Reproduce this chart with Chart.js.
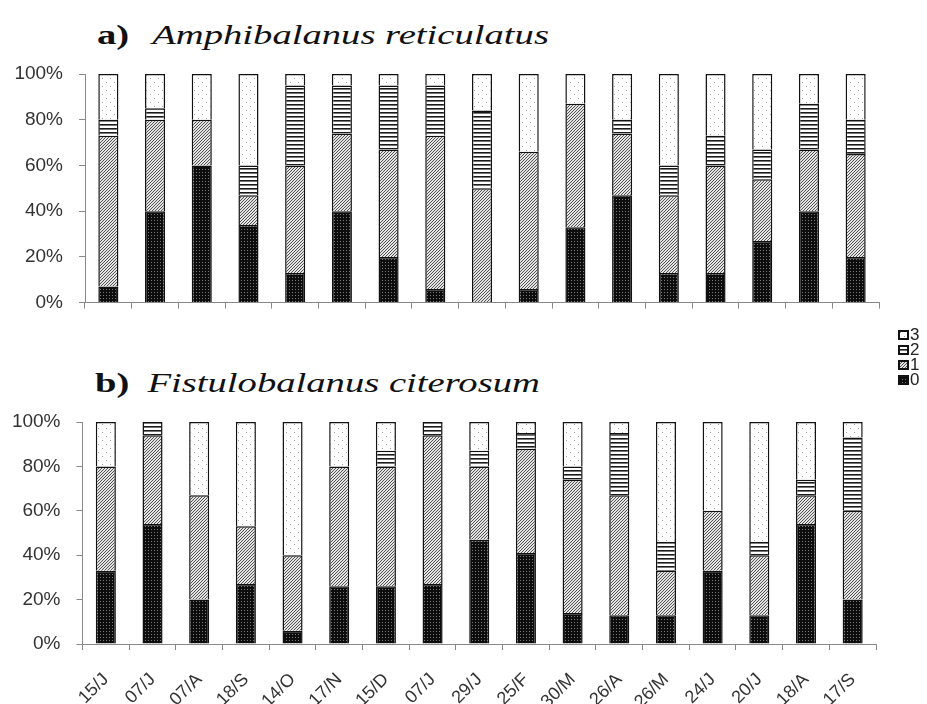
<!DOCTYPE html>
<html>
<head>
<meta charset="utf-8">
<script src="https://cdn.jsdelivr.net/npm/chart.js@4.4.0/dist/chart.umd.min.js"></script>
<style>
body{margin:0;background:#fff;width:927px;height:704px;position:relative;overflow:hidden;font-family:Arial,"Liberation Sans",sans-serif}
.tit{position:absolute;font-family:"Liberation Serif","Times New Roman",serif;font-size:28px;line-height:28px;color:#111;white-space:nowrap;transform:scaleX(1.38);transform-origin:0 0}
.tit b{position:absolute;left:0;top:0}
.tit i{position:absolute;top:0;font-weight:normal}
#ca{position:absolute;left:0;top:0}
#cb{position:absolute;left:0;top:330px}
#legenda{position:absolute;left:898px;top:327px;font-size:17px;color:#222}
.item{height:15px;line-height:15px;display:flex;align-items:center}
.item canvas{margin-right:1px}
</style>
</head>
<body>
<div class="tit" style="left:97px;top:21px"><b>a)</b><i style="left:40px">Amphibalanus reticulatus</i></div>
<div class="tit" style="left:95px;top:369px"><b>b)</b><i style="left:38px">Fistulobalanus citerosum</i></div>
<canvas id="ca" width="927" height="330"></canvas>
<canvas id="cb" width="927" height="374"></canvas>
<div id="legenda"></div>
<script>
// datas de coleta
const datas=["15/J","07/J","07/A","18/S","14/O","17/N","15/D","07/J","29/J","25/F","30/M","26/A","26/M","24/J","20/J","18/A","17/S"]
const classes=["0","1","2","3"]
const ticksY=[0,20,40,60,80,100]

// a) Amphibalanus reticulatus (%)
const a0=[7,40,60,34,13,40,20,6,0,6,33,47,13,13,27,40,20]
const a1=[66,40,20,13,47,34,47,67,50,60,54,27,34,47,27,27,45]
const a2=[7,5,0,13,35,21,28,22,34,0,0,6,13,13,13,20,15]
const a3=[20,15,20,40,5,5,5,5,16,34,13,20,40,27,33,13,20]

// b) Fistulobalanus citerosum (%)
const b0=[33,54,20,27,6,26,26,27,47,41,14,13,13,33,13,54,20]
const b1=[47,40,47,26,34,54,54,67,33,47,60,54,20,27,27,13,40]
const b2=[0,6,0,0,0,0,7,6,7,7,6,28,13,0,6,7,33]
const b3=[20,0,33,47,60,20,13,0,13,5,20,5,54,40,54,26,7]

function desenhaPadrao(ctx,tipo,w,h){
if(tipo==0){
ctx.fillStyle="#0d0d0d";ctx.fillRect(0,0,w,h)
ctx.fillStyle="#7a7a7a"
for(let x=1;x<w;x+=3)for(let y=1;y<h;y+=3)ctx.fillRect(x,y,1,1)
}
if(tipo==1){
ctx.fillStyle="#e2e2e2";ctx.fillRect(0,0,w,h)
ctx.strokeStyle="#555";ctx.lineWidth=1
for(let k=-h;k<w+h;k+=3){ctx.beginPath();ctx.moveTo(k,h);ctx.lineTo(k+h,0);ctx.stroke()}
}
if(tipo==2){
ctx.fillStyle="#fff";ctx.fillRect(0,0,w,h)
ctx.fillStyle="#1a1a1a"
for(let y=0;y<h;y+=4)ctx.fillRect(0,y,w,1.6)
}
if(tipo==3){
ctx.fillStyle="#fff";ctx.fillRect(0,0,w,h)
ctx.fillStyle="#a0a0a0"
for(let y=2;y<h;y+=8)for(let x=2;x<w;x+=8){ctx.fillRect(x,y,1,1);ctx.fillRect(x+4,y+4,1,1)}
}
}

function padrao(tipo){
let c=document.createElement("canvas")
c.width=24;c.height=24
desenhaPadrao(c.getContext("2d"),tipo,24,24)
return c.getContext("2d").createPattern(c,"repeat")
}

const padroes=[padrao(0),padrao(1),padrao(2),padrao(3)]

function criarGrafico(id,series,esq,dir,topo,altX,comRotulos){
new Chart(document.getElementById(id),{
type:"bar",
data:{
labels:datas,
datasets:series.map((s,i)=>({
label:classes[i],
data:s,
backgroundColor:padroes[i],
borderColor:"#111",
borderWidth:1.5,
barPercentage:0.43,
categoryPercentage:1
}))
},
options:{
responsive:false,
animation:false,
layout:{padding:{top:topo,right:dir,left:0,bottom:0}},
plugins:{legend:{display:false},tooltip:{enabled:false}},
scales:{
x:{
stacked:true,
grid:{drawOnChartArea:false,drawTicks:true,tickLength:6,color:"#888",offset:true},
border:{color:"#888",width:1},
ticks:{display:comRotulos,minRotation:45,maxRotation:45,padding:19,color:"#333",font:{size:18,family:"Arial"}},
afterFit:s=>{s.height=altX}
},
y:{
stacked:true,
min:0,max:100,
afterBuildTicks:s=>{s.ticks=ticksY.map(v=>({value:v}))},
grid:{drawOnChartArea:false,drawTicks:true,tickLength:6,color:"#888"},
border:{color:"#888",width:1},
ticks:{padding:16,color:"#333",font:{size:19,family:"Arial"},callback:v=>v+"%"},
afterFit:s=>{s.width=esq}
}
}
}
})
}

criarGrafico("ca",[a0,a1,a2,a3],85,48,74,24,false)
criarGrafico("cb",[b0,b1,b2,b3],82.5,51,92,60,true)

// legenda
let leg=document.getElementById("legenda")
for(let i=3;i>=0;i--){
let d=document.createElement("div");d.className="item"
let c=document.createElement("canvas");c.width=11;c.height=10
let ctx=c.getContext("2d")
desenhaPadrao(ctx,i,11,10)
ctx.strokeStyle="#111";ctx.lineWidth=2;ctx.strokeRect(1,1,9,8)
d.appendChild(c)
let t=document.createElement("span");t.textContent=classes[i]
d.appendChild(t)
leg.appendChild(d)
}
</script>
</body>
</html>
